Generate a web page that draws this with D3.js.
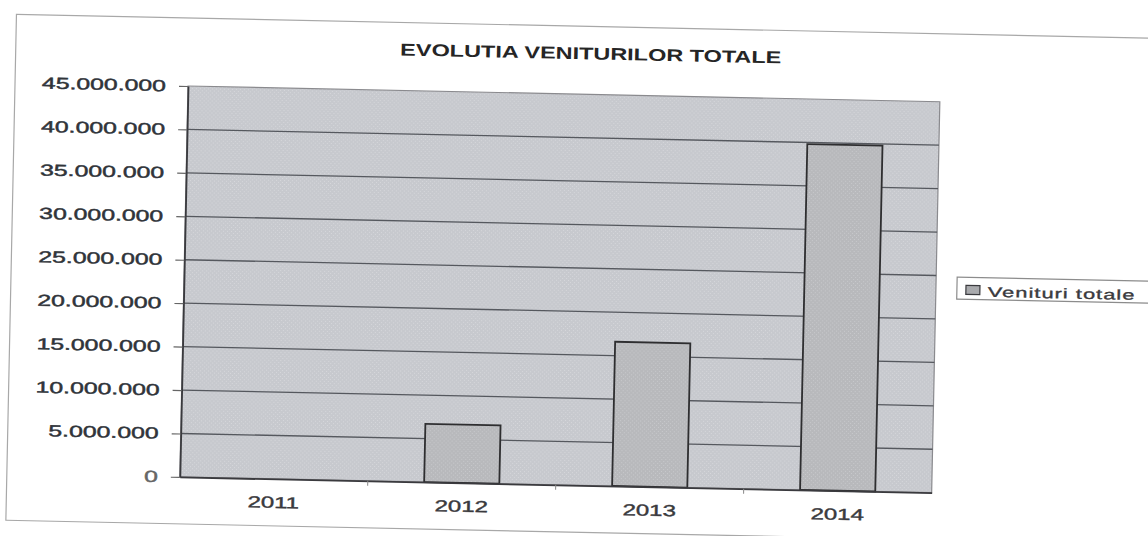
<!DOCTYPE html>
<html>
<head>
<meta charset="utf-8">
<script src="https://cdn.jsdelivr.net/npm/d3@7"></script>
<style>
  body { margin: 0; background: #fff; }
  text { font-family: "Liberation Sans", Arial, sans-serif; }
</style>
</head>
<body>
<svg id="chart" width="1148" height="536"></svg>
<script>
const years = ["2011", "2012", "2013", "2014"];
const venituri = [0, 6700000, 16600000, 39800000];
const yTicks = [0, 5000000, 10000000, 15000000, 20000000, 25000000, 30000000, 35000000, 40000000, 45000000];
const titlu = "EVOLUTIA VENITURILOR TOTALE";
const serie = "Venituri totale";

const svg = d3.select("#chart");
svg.append("rect").attr("width", 1148).attr("height", 536).attr("fill", "#fff");

// halftone look of the scanned plot area
let defs = svg.append("defs");
let pat = defs.append("pattern").attr("id", "dots")
    .attr("width", 4).attr("height", 4).attr("patternUnits", "userSpaceOnUse");
pat.append("rect").attr("width", 4).attr("height", 4).attr("fill", "#c7c9ce");
pat.append("rect").attr("x", 0).attr("y", 0).attr("width", 1).attr("height", 1).attr("fill", "#d6d7db");
pat.append("rect").attr("x", 2).attr("y", 2).attr("width", 1).attr("height", 1).attr("fill", "#d6d7db");
let patBar = defs.append("pattern").attr("id", "dotsBar")
    .attr("width", 4).attr("height", 4).attr("patternUnits", "userSpaceOnUse");
patBar.append("rect").attr("width", 4).attr("height", 4).attr("fill", "#b8b9bc");
patBar.append("rect").attr("x", 1).attr("y", 1).attr("width", 1).attr("height", 1).attr("fill", "#c8c9cc");
patBar.append("rect").attr("x", 3).attr("y", 3).attr("width", 1).attr("height", 1).attr("fill", "#c8c9cc");

// the scan is tilted a little, so the whole chart is turned round the plot corner
let plotLeft = 188, plotTop = 86, plotW = 752, plotH = 391;
let root = svg.append("g").attr("transform", `rotate(1.2,${plotLeft},${plotTop})`);

let ro = d3.formatLocale({decimal: ",", thousands: ".", grouping: [3], currency: ["", ""]});
let fmt = ro.format(",");

// outer frame (runs off the right side)
root.append("rect")
    .attr("x", 15).attr("y", 18)
    .attr("width", 1250).attr("height", 506)
    .attr("fill", "none").attr("stroke", "#a8a8a8").attr("stroke-width", 1.2);

root.append("text")
    .attr("transform", `translate(590,51) scale(1.38,1)`)
    .attr("text-anchor", "middle")
    .attr("font-size", 17).attr("font-weight", "bold")
    .attr("fill", "#252525")
    .text(titlu);

let x = d3.scaleBand().domain(years).range([plotLeft, plotLeft + plotW]).paddingInner(0.6).paddingOuter(0.3);
let y = d3.scaleLinear().domain([0, 45000000]).range([plotTop + plotH, plotTop]);

root.append("rect")
    .attr("x", plotLeft).attr("y", plotTop)
    .attr("width", plotW).attr("height", plotH)
    .attr("fill", "url(#dots)")
    .attr("stroke", "#8a8a8e").attr("stroke-width", 1.2);

root.append("g")
    .selectAll("line")
    .data(yTicks.slice(1, -1))
    .enter()
    .append("line")
    .attr("x1", plotLeft).attr("x2", plotLeft + plotW)
    .attr("y1", (d) => y(d)).attr("y2", (d) => y(d))
    .attr("stroke", "#55585e").attr("stroke-width", 1.3);

root.append("g")
    .selectAll("rect")
    .data(venituri)
    .enter()
    .append("rect")
    .attr("x", (d, i) => x(years[i]))
    .attr("y", (d) => y(d))
    .attr("width", x.bandwidth())
    .attr("height", (d) => y(0) - y(d))
    .attr("fill", "url(#dotsBar)")
    .attr("stroke", (d) => d > 0 ? "#2e2e30" : "none")
    .attr("stroke-width", 1.8);

let yAxis = root.append("g")
    .attr("transform", `translate(${plotLeft},0)`)
    .call(d3.axisLeft(y).tickValues(yTicks).tickFormat(fmt).tickSize(9).tickSizeOuter(0));
yAxis.select(".domain").attr("stroke", "#3a3a3e").attr("stroke-width", 1.8);
yAxis.selectAll(".tick line").attr("stroke", "#666").attr("stroke-width", 1.2);
yAxis.selectAll(".tick text")
    .attr("x", null)
    .attr("transform", "translate(-22,0) scale(1.55,1)")
    .attr("font-size", 16)
    .attr("fill", (d) => d === 0 ? "#666" : "#30343a")
    .attr("stroke", (d) => d === 0 ? "#666" : "#30343a")
    .attr("stroke-width", 0.45);

let xAxis = root.append("g")
    .attr("transform", `translate(0,${plotTop + plotH})`)
    .call(d3.axisBottom(x).tickSize(0).tickSizeOuter(0));
xAxis.select(".domain").attr("stroke", "#3a3a3e").attr("stroke-width", 1.8);
xAxis.selectAll(".tick text")
    .attr("y", null).attr("dy", null)
    .attr("transform", "translate(0,29) scale(1.5,1)")
    .attr("font-size", 16)
    .attr("fill", "#3a3a3e")
    .attr("stroke", "#3a3a3e").attr("stroke-width", 0.4);

// small marks between the categories
root.append("g")
    .selectAll("line")
    .data(years.slice(1))
    .enter()
    .append("line")
    .attr("x1", (d) => x(d) - x.step() * 0.3).attr("x2", (d) => x(d) - x.step() * 0.3)
    .attr("y1", plotTop + plotH).attr("y2", plotTop + plotH + 5)
    .attr("stroke", "#888").attr("stroke-width", 1);

// legend
let legend = root.append("g").attr("transform", "translate(961,261)");
legend.append("rect")
    .attr("width", 260).attr("height", 22)
    .attr("fill", "#fff").attr("stroke", "#8c8c8c").attr("stroke-width", 1.2);
legend.append("rect")
    .attr("x", 9).attr("y", 8).attr("width", 14).attr("height", 9)
    .attr("fill", "#a9aaad").attr("stroke", "#3a3a3e").attr("stroke-width", 1.2);
legend.append("text")
    .attr("transform", "translate(31,19) scale(1.55,1)")
    .attr("font-size", 14).attr("letter-spacing", 0.7)
    .attr("fill", "#3a3a3e")
    .attr("stroke", "#3a3a3e").attr("stroke-width", 0.35)
    .text(serie);
</script>
</body>
</html>
